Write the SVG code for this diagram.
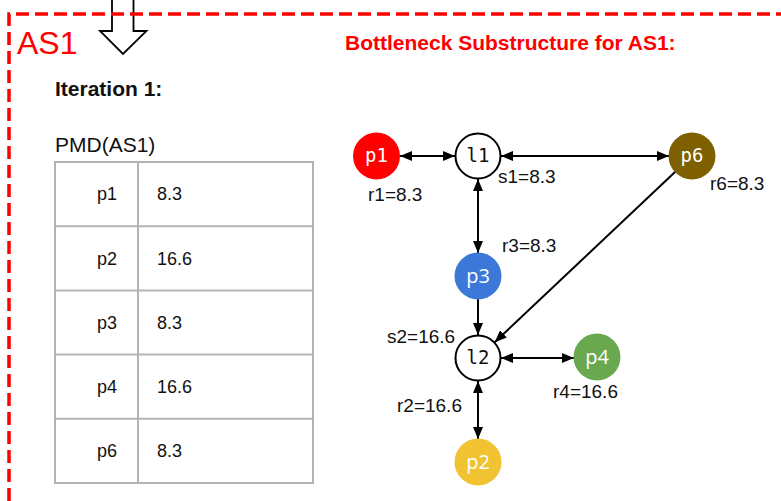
<svg xmlns="http://www.w3.org/2000/svg" width="781" height="501" viewBox="0 0 781 501">
  <style>
    .frame { fill: none; stroke: #ff0000; stroke-width: 3.5; stroke-dasharray: 13 6; }
    .title { font-family: "Liberation Sans", Arial, sans-serif; font-weight: bold; font-size: 21px; }
    .plain { font-family: "Liberation Sans", Arial, sans-serif; font-size: 19px; fill: #111; }
    .cell { font-family: "Liberation Sans", Arial, sans-serif; font-size: 18px; fill: #111; }
    .grid { fill: none; stroke: #b3b3b3; stroke-width: 2; }
    .edge { fill: none; stroke: #000; stroke-width: 2; }
    .mono { font-family: "DejaVu Sans Mono", monospace; font-size: 19px; text-anchor: middle; }
    .sans { font-family: "Open Sans", sans-serif; font-size: 20px; text-anchor: middle; fill: #fff; }
    .link { fill: #fff; stroke: #000; stroke-width: 2; }
  </style>
  <defs>
    <marker id="head" markerUnits="userSpaceOnUse" markerWidth="12" markerHeight="10" refX="12" refY="5" orient="auto-start-reverse">
      <path d="M0,0 L12,5 L0,10 Z" fill="#000"/>
    </marker>
  </defs>

  <rect width="781" height="501" fill="#fff"/>

  <!-- incoming hollow arrow -->
  <g id="down-arrow">
    <path d="M112,0 L112,31 L100,31 L123,54 L146.5,31 L133.5,31 L133.5,0" fill="#fff" stroke="#000" stroke-width="1.8" stroke-linejoin="miter"/>
  </g>

  <!-- dashed AS boundary -->
  <g id="as-frame">
    <path class="frame" d="M9,520 L9,14 L790,14"/>
    <text x="17" y="54" font-family="Liberation Sans, Arial, sans-serif" font-size="32" fill="#ff0000">AS1</text>
  </g>

  <text class="title" x="55" y="96" fill="#111">Iteration 1:</text>
  <text class="title" x="345" y="50" fill="#ff0000">Bottleneck Substructure for AS1:</text>

  <!-- PMD table -->
  <g id="pmd-table">
    <text x="55" y="152" font-family="Liberation Sans, Arial, sans-serif" font-size="21" fill="#111">PMD(AS1)</text>
    <rect class="grid" x="55" y="162" width="258" height="321"/>
    <path class="grid" d="M138,162 V483 M55,226.2 H313 M55,290.4 H313 M55,354.6 H313 M55,418.8 H313"/>
    <text class="cell" x="97" y="200">p1</text><text class="cell" x="157" y="200">8.3</text>
    <text class="cell" x="97" y="264.5">p2</text><text class="cell" x="157" y="264.5">16.6</text>
    <text class="cell" x="97" y="328.7">p3</text><text class="cell" x="157" y="328.7">8.3</text>
    <text class="cell" x="97" y="392.9">p4</text><text class="cell" x="157" y="392.9">16.6</text>
    <text class="cell" x="97" y="457">p6</text><text class="cell" x="157" y="457">8.3</text>
  </g>

  <!-- connectors -->
  <g id="connectors">
    <line class="edge" x1="400" y1="156" x2="455" y2="156" marker-start="url(#head)" marker-end="url(#head)"/>
    <line class="edge" x1="501" y1="156" x2="669" y2="156" marker-start="url(#head)" marker-end="url(#head)"/>
    <line class="edge" x1="478" y1="179" x2="478" y2="253" marker-start="url(#head)" marker-end="url(#head)"/>
    <line class="edge" x1="478" y1="299" x2="478" y2="335" marker-end="url(#head)"/>
    <line class="edge" x1="675.3" y1="171.8" x2="494.7" y2="342.2" marker-end="url(#head)"/>
    <line class="edge" x1="501" y1="358" x2="574" y2="358" marker-start="url(#head)" marker-end="url(#head)"/>
    <line class="edge" x1="478" y1="381" x2="478" y2="439" marker-start="url(#head)" marker-end="url(#head)"/>
  </g>

  <!-- nodes -->
  <g id="p1">
    <circle cx="376.5" cy="156" r="23.5" fill="#ff0000"/>
    <text class="mono" x="376.5" y="162" fill="#fff">p1</text>
    <text class="plain" x="368" y="201">r1=8.3</text>
  </g>
  <g id="l1">
    <circle class="link" cx="478" cy="156" r="22.5"/>
    <text class="mono" x="478" y="162" fill="#111">l1</text>
    <text class="plain" x="498" y="183">s1=8.3</text>
  </g>
  <g id="p6">
    <circle cx="692" cy="156" r="23.5" fill="#7f6000"/>
    <text class="mono" x="692" y="162" fill="#fff">p6</text>
    <text class="plain" x="710" y="190">r6=8.3</text>
  </g>
  <g id="p3">
    <circle cx="478" cy="276" r="23.5" fill="#3c78d8"/>
    <text class="sans" x="478" y="283">p3</text>
    <text class="plain" x="502" y="252">r3=8.3</text>
  </g>
  <g id="l2">
    <circle class="link" cx="478" cy="358" r="22.5"/>
    <text class="mono" x="478" y="364" fill="#111">l2</text>
    <text class="plain" x="387" y="343">s2=16.6</text>
  </g>
  <g id="p4">
    <circle cx="597" cy="357" r="23.5" fill="#6aa84f"/>
    <text class="sans" x="597" y="364">p4</text>
    <text class="plain" x="553" y="398">r4=16.6</text>
  </g>
  <g id="p2">
    <circle cx="478" cy="462" r="23.5" fill="#f1c232"/>
    <text class="sans" x="478" y="469">p2</text>
    <text class="plain" x="397" y="412">r2=16.6</text>
  </g>
</svg>
